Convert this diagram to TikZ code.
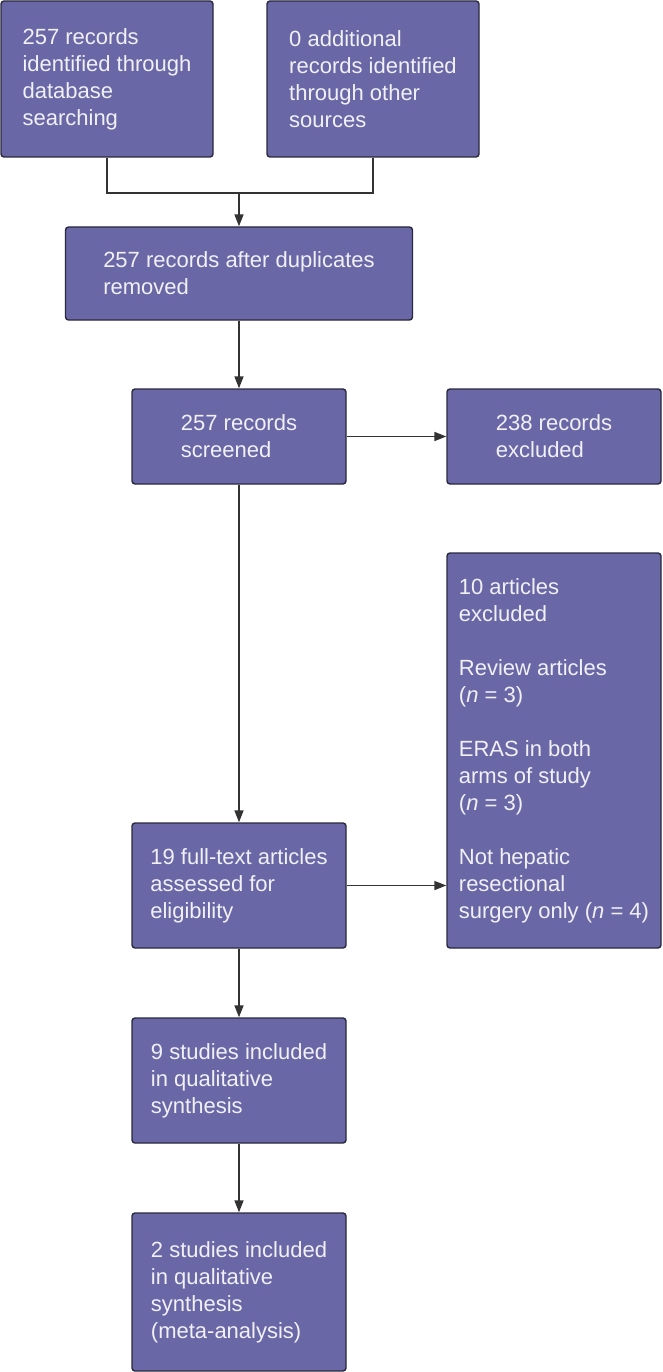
\documentclass[tikz,border=0pt]{standalone}
\usepackage{fontspec}
\setmainfont{Liberation Sans}
\usepackage{tikz}
\usepackage{xcolor}
\usetikzlibrary{positioning, arrows.meta}

\definecolor{boxfill}{RGB}{106,103,166}
\definecolor{boxline}{RGB}{40,40,62}
\definecolor{boxtext}{RGB}{240,240,246}

\begin{document}
\begin{tikzpicture}[x=1pt, y=1pt,
        box/.style={rectangle, draw=boxline, line width=1.4pt, fill=boxfill, rounded corners=3pt,
            text=boxtext, align=left, inner sep=0pt, font=\fontsize{22}{27}\selectfont},
        link/.style={draw=black!80, line width=1.6pt},
        arr/.style={link, -{Triangle[length=12pt, width=9pt]}}]
                \useasboundingbox (0, 0) rectangle (662, -1372);

                \node[box, minimum width=212, minimum height=156] (ident) at (107, -79) {257 records\\identified through\\database\\searching};
                \node[box, minimum width=212, minimum height=156] (other) at (373, -79) {0 additional\\records identified\\through other\\sources};
                \node[box, minimum width=347, minimum height=93] (dupl) at (239, -273.5) {257 records after duplicates\\removed};
                \node[box, minimum width=214, minimum height=95] (screen) at (239, -436.5) {257 records\\screened};
                \node[box, minimum width=214, minimum height=95] (recexcl) at (554, -436.5) {238 records\\excluded};
                \node[box, minimum width=214, minimum height=395] (artexcl) at (554, -750.5) {10 articles\\excluded\\[27pt]Review articles\\(\textit{n} = 3)\\[27pt]ERAS in both\\arms of study\\(\textit{n} = 3)\\[27pt]Not hepatic\\resectional\\surgery only (\textit{n} = 4)};
                \node[box, minimum width=214, minimum height=125] (full) at (239, -885.5) {19 full-text articles\\assessed for\\eligibility};
                \node[box, minimum width=214, minimum height=125] (qual) at (239, -1080.5) {9 studies included\\in qualitative\\synthesis};
                \node[box, minimum width=214, minimum height=158] (meta) at (239, -1292) {2 studies included\\in qualitative\\synthesis\\(meta-analysis)};

                \coordinate (join) at (239, -193);

                \draw[link] (ident.south) |- (join);
                \draw[link] (other.south) |- (join);
                \draw[arr] (join) -- (dupl.north);
                \draw[arr] (dupl.south) -- (screen.north);
                \draw[arr] (screen.east) -- (recexcl.west);
                \draw[arr] (screen.south) -- (full.north);
                \draw[arr] (full.east) -- (full.east -| artexcl.west);
                \draw[arr] (full.south) -- (qual.north);
                \draw[arr] (qual.south) -- (meta.north);
            \end{tikzpicture}
\end{document}
